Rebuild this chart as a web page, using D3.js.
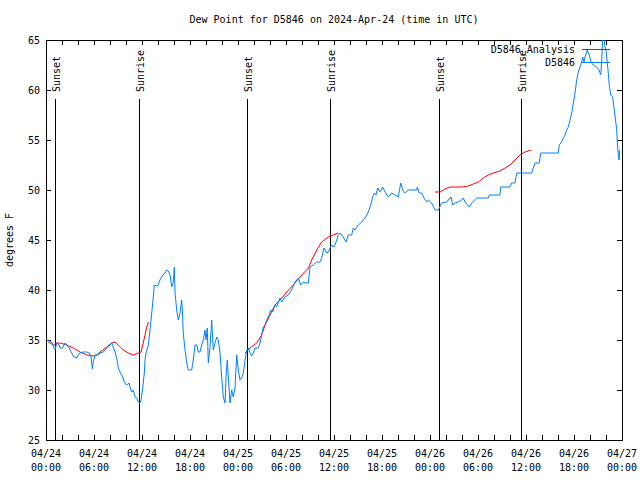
<!DOCTYPE html>
<html>
<head>
<meta charset="utf-8">
<script src="https://cdn.jsdelivr.net/npm/d3@7"></script>
<style>
  html, body { margin: 0; padding: 0; background: #fff; }
  svg text { font-family: "DejaVu Sans Mono", "Liberation Mono", monospace; font-size: 10px; fill: #000; }
</style>
</head>
<body>
<svg id="chart" width="640" height="480"></svg>
<script>
// ---------- data (hours since 2024-04-24 00:00 UTC) ----------
const titleText = "Dew Point for D5846 on 2024-Apr-24 (time in UTC)";
const yLabelText = "degrees F";
const seriesNames = ["D5846_Analysis", "D5846"];
const yTicks = [25, 30, 35, 40, 45, 50, 55, 60, 65];

const obsHours = [0.09,0.71,1.0,1.13,1.34,1.66,1.75,2.04,2.38,2.59,2.91,3.21,3.5,3.84,4.04,4.25,4.66,5.09,5.41,5.63,5.79,5.91,6.13,6.54,6.75,7.16,7.59,8.0,8.21,8.41,8.63,8.84,9.04,9.25,9.59,9.79,10.09,10.38,10.5,10.71,10.91,11.13,11.34,11.54,11.75,11.88,12.09,12.29,12.38,12.5,12.79,13.0,13.29,13.54,13.84,14.04,14.25,14.59,14.88,15.09,15.29,15.5,15.71,15.91,16.04,16.13,16.34,16.54,16.75,16.96,17.04,17.16,17.38,17.59,17.79,18.21,18.41,18.63,18.84,19.04,19.25,19.46,19.66,19.88,20.0,20.16,20.29,20.5,20.71,20.91,21.13,21.34,21.54,21.75,21.96,22.16,22.38,22.5,22.66,22.79,23.0,23.21,23.41,23.63,23.84,24.04,24.25,24.46,24.66,24.88,25.09,25.29,25.5,25.71,25.91,26.13,26.54,26.75,26.96,27.16,27.38,27.59,27.91,28.09,28.34,28.63,28.84,29.25,29.46,29.88,30.29,30.71,31.13,31.54,31.84,32.16,32.5,32.79,33.0,33.41,33.84,34.25,34.46,34.75,35.09,35.29,35.5,35.71,36.0,36.25,36.54,36.75,37.16,37.5,37.79,38.21,38.41,38.63,39.04,39.46,39.88,40.29,40.59,40.84,41.04,41.25,41.46,41.75,42.09,42.38,42.79,43.21,43.63,44.04,44.34,44.59,44.88,45.29,46.34,46.41,46.66,46.96,47.25,47.59,47.79,48.21,48.63,49.04,49.46,50.09,50.5,50.63,50.84,51.13,51.54,51.96,52.16,52.38,52.91,53.21,53.84,55.29,55.41,56.75,56.84,58.0,58.21,58.63,58.84,60.71,60.91,61.13,61.66,61.84,64.04,64.16,64.46,64.66,64.88,65.09,65.29,65.5,65.71,65.91,66.13,66.34,66.54,66.75,66.96,67.09,67.25,67.41,67.66,67.91,68.13,68.41,68.84,69.13,69.34,69.46,69.59,69.75,69.88,70.0,70.16,70.29,70.41,70.59,70.84,71.0,71.16,71.34,71.41,71.54,71.63,71.71];
const obsValues = [35.0,34.8,34.2,34.0,34.7,34.5,34.2,34.2,34.7,34.5,34.2,33.7,33.3,33.2,33.5,33.7,33.8,33.8,33.7,33.3,32.1,32.8,33.5,33.5,33.7,33.8,34.2,34.5,34.7,34.3,33.8,33.2,32.2,31.8,31.3,30.8,30.5,30.7,30.3,29.8,30.0,29.3,29.2,28.8,28.7,29.0,30.2,31.7,33.0,33.7,34.5,36.0,38.3,40.5,40.4,40.5,41.0,41.5,41.7,42.0,41.9,41.5,40.3,40.8,42.3,39.7,38.0,37.0,37.7,39.0,38.0,35.7,34.0,32.7,32.0,32.0,33.0,34.5,34.5,33.8,33.8,34.5,35.0,36.0,35.0,36.2,32.7,34.3,37.0,34.0,34.7,35.3,35.0,33.7,31.3,29.3,28.7,31.3,33.0,31.3,28.7,30.0,29.3,30.3,33.5,32.0,31.0,31.2,31.7,33.0,34.0,34.2,33.7,33.4,33.7,34.2,34.2,34.7,35.5,36.3,36.5,37.0,37.5,38.0,37.8,38.5,38.3,39.2,38.8,39.3,39.5,40.0,40.8,41.2,40.5,40.8,40.7,40.7,42.3,42.5,42.8,42.8,43.2,44.2,43.7,43.8,44.2,44.5,44.3,44.8,45.5,45.7,45.3,44.8,45.5,45.5,46.2,46.0,46.5,46.8,47.2,47.8,48.5,49.3,49.7,49.5,50.2,49.8,50.3,49.8,49.3,49.7,49.5,49.3,50.7,50.0,49.7,50.0,50.0,50.3,49.7,49.7,49.2,48.8,49.0,48.7,48.0,48.0,48.7,48.8,49.2,49.3,48.5,48.7,48.8,49.0,49.2,48.8,48.3,48.7,49.2,49.2,49.5,49.5,50.3,50.3,50.7,50.7,51.7,51.7,52.2,52.7,52.7,53.7,53.7,54.5,54.8,55.2,55.5,56.0,56.3,57.0,57.7,58.7,59.7,61.0,61.8,62.3,62.8,63.3,62.8,63.4,64.0,63.5,62.8,62.5,62.3,62.0,61.5,62.8,65.3,65.1,64.3,64.0,62.7,61.7,60.5,59.5,59.3,58.2,57.2,56.0,54.8,53.5,53.0,54.0];

const anaHours = [0.29,0.91,1.34,1.75,2.59,3.41,4.25,5.09,5.91,6.34,6.75,7.59,8.21,8.63,9.04,9.66,10.29,10.91,11.54,11.88,12.16,12.38,12.59,12.81, 18.0,
  24.88,25.5,26.34,26.96,27.38,28.0,28.63,29.25,30.09,30.91,31.75,32.79,33.21,33.84,34.46,35.29,35.91,36.54, 42.0,
  48.63,49.25,49.88,50.5,51.96,52.79,53.41,54.04,54.66,55.29,55.91,56.75,57.38,58.0,58.63,59.25,59.88,60.63];
const anaValues = [34.8,34.5,34.7,34.7,34.5,34.2,33.8,33.5,33.4,33.5,33.8,34.3,34.7,34.8,34.5,34.0,33.7,33.5,33.7,33.8,34.7,35.5,36.3,36.8, null,
  33.7,34.2,34.7,35.5,36.5,37.5,38.5,39.0,39.8,40.5,41.3,42.2,43.0,44.0,44.8,45.3,45.5,45.7, null,
  49.8,49.8,50.1,50.3,50.3,50.4,50.6,50.8,51.2,51.5,51.7,51.9,52.2,52.5,53.0,53.5,53.8,54.0];

const eventHours = [1.17, 11.67, 25.17, 35.55, 49.16, 59.38];
const eventLabels = ["Sunset", "Sunrise", "Sunset", "Sunrise", "Sunset", "Sunrise"];

// ---------- layout ----------
const W = 640, H = 480;
const L = 46, R = 622, T = 40, B = 440;
const start = Date.UTC(2024, 3, 24, 0, 0);
const toDate = h => new Date(start + h * 3600e3);

const svg = d3.select("#chart");
const x = d3.scaleUtc().domain([toDate(0), toDate(72)]).range([L, R]);
const y = d3.scaleLinear().domain([25, 65]).range([B, T]);

const obs = obsHours.map((h, i) => ({t: toDate(h), v: obsValues[i]}));
const ana = anaHours.map((h, i) => ({t: toDate(h), v: anaValues[i]}));

svg.append("defs").append("clipPath").attr("id", "clip")
  .append("rect").attr("x", L).attr("y", T).attr("width", R - L).attr("height", B - T);

// title
svg.append("text").attr("x", (L + R) / 2).attr("y", 23).attr("text-anchor", "middle").text(titleText);

// y label
svg.append("text").attr("transform", `translate(13,${(T + B) / 2}) rotate(-90)`)
  .attr("text-anchor", "middle").text(yLabelText);

// event lines
const ev = svg.append("g");
eventHours.forEach((h, i) => {
  const ex = Math.round(x(toDate(h))) + 0.5;
  ev.append("line").attr("x1", ex).attr("x2", ex).attr("y1", 99).attr("y2", B)
    .attr("stroke", "#000").attr("stroke-width", 1).attr("shape-rendering", "crispEdges");
  ev.append("text").attr("transform", `translate(${ex + 4},92) rotate(-90)`)
    .attr("text-anchor", "start").text(eventLabels[i]);
});

// axes
const xTickVals = d3.utcHour.every(2).range(toDate(0), toDate(72.01));
const gxB = svg.append("g").attr("transform", `translate(0,${B})`)
  .call(d3.axisBottom(x).tickValues(xTickVals).tickSize(-5).tickFormat(""));
const gxT = svg.append("g").attr("transform", `translate(0,${T})`)
  .call(d3.axisTop(x).tickValues(xTickVals).tickSize(-5).tickFormat(""));
const gyL = svg.append("g").attr("transform", `translate(${L},0)`)
  .call(d3.axisLeft(y).tickValues(yTicks).tickSize(-5).tickPadding(6).tickFormat(d3.format("d")));
const gyR = svg.append("g").attr("transform", `translate(${R},0)`)
  .call(d3.axisRight(y).tickValues(yTicks).tickSize(-5).tickFormat(""));
[gxB, gxT, gyL, gyR].forEach(g => {
  g.select(".domain").remove();
  g.selectAll("line").attr("stroke", "#000").attr("shape-rendering", "crispEdges");
  g.selectAll("text").attr("font-family", null).attr("font-size", null);
});

// x labels (two lines)
const labelVals = d3.utcHour.every(6).range(toDate(0), toDate(72.01));
const fmtD = d3.utcFormat("%m/%d"), fmtT = d3.utcFormat("%H:%M");
labelVals.forEach(d => {
  const t = svg.append("text").attr("text-anchor", "middle");
  t.append("tspan").attr("x", x(d)).attr("y", 457).text(fmtD(d));
  t.append("tspan").attr("x", x(d)).attr("y", 471).text(fmtT(d));
});

// frame
svg.append("rect").attr("x", L + 0.5).attr("y", T + 0.5).attr("width", R - L).attr("height", B - T)
  .attr("fill", "none").attr("stroke", "#000").attr("shape-rendering", "crispEdges");

// data
const line = d3.line().defined(d => d.v != null).x(d => x(d.t)).y(d => y(d.v));
const plot = svg.append("g").attr("clip-path", "url(#clip)");
plot.append("path").datum(ana).attr("d", line).attr("fill", "none")
  .attr("stroke", "#ff0000").attr("stroke-width", 1);
plot.append("path").datum(obs).attr("d", line).attr("fill", "none")
  .attr("stroke", "#0080ff").attr("stroke-width", 1);

// legend
const colors = ["#ff0000", "#0080ff"];
seriesNames.forEach((name, i) => {
  const ly = 49 + i * 13;
  svg.append("text").attr("x", 575).attr("y", ly + 4).attr("text-anchor", "end").text(name);
  svg.append("line").attr("x1", 582).attr("x2", 610).attr("y1", ly + 0.5).attr("y2", ly + 0.5)
    .attr("stroke", colors[i]).attr("shape-rendering", "crispEdges");
});
</script>
</body>
</html>
